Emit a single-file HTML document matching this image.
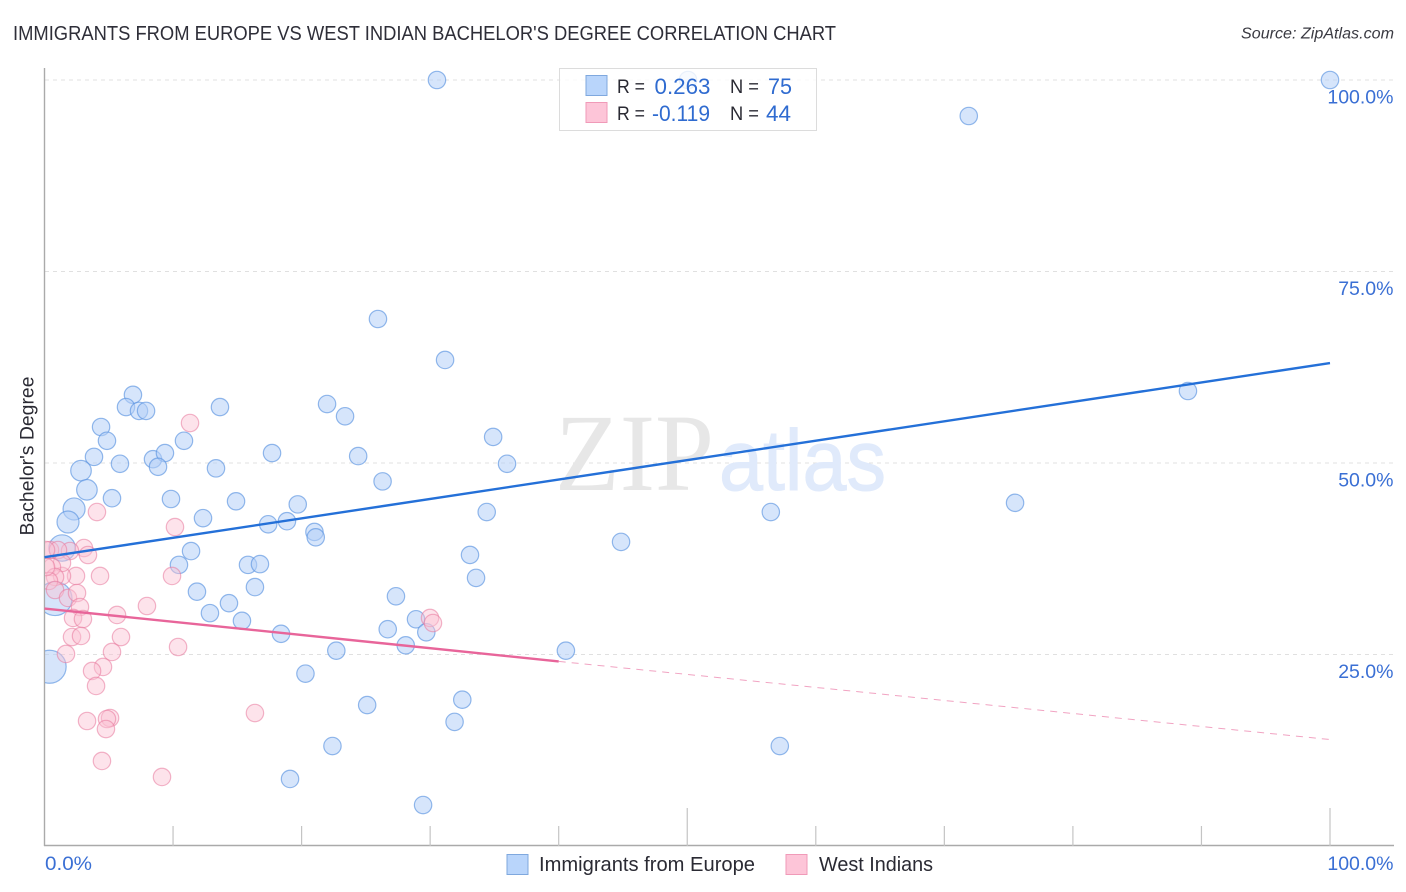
<!DOCTYPE html>
<html lang="en">
<head>
<meta charset="utf-8">
<title>Immigrants from Europe vs West Indian Bachelor's Degree Correlation Chart</title>
<style>
html,body{margin:0;padding:0;background:#fff;}
svg{display:block;font-family:"Liberation Sans",sans-serif;}
</style>
</head>
<body>
<svg id="chart" xmlns="http://www.w3.org/2000/svg" width="1406" height="892" viewBox="0 0 1406 892">
  <defs>
    <clipPath id="plot-clip"><rect x="45" y="60" width="1349" height="786"/></clipPath>
  </defs>
  <text x="13" y="40" font-size="20" fill="#2e2e38" textLength="823" lengthAdjust="spacingAndGlyphs">IMMIGRANTS FROM EUROPE VS WEST INDIAN BACHELOR'S DEGREE CORRELATION CHART</text>
  <text x="1394" y="38.5" font-size="15.5" font-style="italic" fill="#3a3a42" text-anchor="end" textLength="153" lengthAdjust="spacingAndGlyphs">Source: ZipAtlas.com</text>
  <text transform="translate(33.5,456) rotate(-90)" font-size="19" fill="#2a2a33" text-anchor="middle" textLength="159" lengthAdjust="spacingAndGlyphs">Bachelor's Degree</text>
  <g id="grid"></g>
  <g>
    <text x="555" y="490" font-family="'Liberation Serif',serif" font-size="110" fill="#e7e7e7" textLength="159" lengthAdjust="spacingAndGlyphs">ZIP</text>
    <text x="719" y="490" font-family="'Liberation Sans',sans-serif" font-size="86" fill="#e0eafb" stroke="#e0eafb" stroke-width="1" textLength="167" lengthAdjust="spacingAndGlyphs">atlas</text>
  </g>
  <g id="axes"></g>
  <g id="points-europe" clip-path="url(#plot-clip)"></g>
  <g id="points-indians" clip-path="url(#plot-clip)"></g>
  <g id="trends"></g>
  <g id="labels"></g>

  <g>
    <rect x="559.5" y="68.5" width="257" height="62" fill="#fff" fill-opacity="0.8" stroke="#dcdcdc" stroke-width="1"/>
    <rect x="586" y="75.5" width="21" height="20" fill="#b9d5fb" stroke="#7fa8de" stroke-width="1"/>
    <rect x="586" y="102.5" width="21" height="20" fill="#fdc5d8" stroke="#f09ab8" stroke-width="1"/>
    <text x="617" y="93" font-size="19" fill="#2a2a33" textLength="28" lengthAdjust="spacingAndGlyphs">R =</text>
    <text x="654.5" y="94" font-size="22" fill="#2f6bd0" textLength="56" lengthAdjust="spacingAndGlyphs">0.263</text>
    <text x="730" y="93" font-size="19" fill="#2a2a33" textLength="29" lengthAdjust="spacingAndGlyphs">N =</text>
    <text x="768" y="94" font-size="22" fill="#2f6bd0" textLength="24" lengthAdjust="spacingAndGlyphs">75</text>
    <text x="617" y="120" font-size="19" fill="#2a2a33" textLength="28" lengthAdjust="spacingAndGlyphs">R =</text>
    <text x="652" y="121" font-size="22" fill="#2f6bd0" textLength="58" lengthAdjust="spacingAndGlyphs">-0.119</text>
    <text x="730" y="120" font-size="19" fill="#2a2a33" textLength="29" lengthAdjust="spacingAndGlyphs">N =</text>
    <text x="766" y="121" font-size="22" fill="#2f6bd0" textLength="25" lengthAdjust="spacingAndGlyphs">44</text>
  </g>

  <g>
    <rect x="507" y="854.5" width="21" height="20" fill="#b9d5fb" stroke="#7fa8de" stroke-width="1"/>
    <text x="539" y="871" font-size="20" fill="#2a2a33" textLength="216" lengthAdjust="spacingAndGlyphs">Immigrants from Europe</text>
    <rect x="786" y="854.5" width="21" height="20" fill="#fdc5d8" stroke="#f09ab8" stroke-width="1"/>
    <text x="819" y="871" font-size="20" fill="#2a2a33" textLength="114" lengthAdjust="spacingAndGlyphs">West Indians</text>
  </g>
</svg>
<script>
const xTickValues = [0,10,20,30,40,50,60,70,80,90,100];
const xMajorTicks = [50,100];
const yTickValues = [25,50,75,100];
const yTickLabels = ["25.0%","50.0%","75.0%","100.0%"];
const xEndLabels = ["0.0%","100.0%"];

const europeX = [30.53,50.06,100,71.9,25.94,31.16,88.95,6.88,6.34,13.65,7.35,7.9,21.98,23.38,4.4,4.86,10.85,34.9,3.85,5.87,8.44,9.37,8.83,17.7,24.4,13.34,35.98,2.84,3.3,26.3,5.25,9.84,14.9,19.7,75.5,2.3,34.4,56.5,1.83,12.33,17.4,18.86,21,21.1,44.85,1.37,11.4,33.1,10.46,15.83,16.76,33.57,16.37,11.86,27.34,14.35,0.82,12.87,15.36,28.9,26.7,29.7,18.4,28.1,22.7,40.56,20.3,0.4,32.5,25.1,31.9,22.4,57.2,19.1,29.45];
const europeY = [100,100,100,95.3,68.8,63.45,59.4,58.9,57.3,57.3,56.8,56.8,57.7,56.1,54.7,52.9,52.9,53.4,50.8,49.9,50.5,51.3,49.5,51.3,50.9,49.3,49.9,49,46.5,47.6,45.4,45.3,45,44.6,44.8,44,43.6,43.6,42.3,42.8,42,42.4,41,40.3,39.7,38.9,38.5,38,36.7,36.7,36.8,35,33.8,33.2,32.6,31.7,32.3,30.4,29.4,29.6,28.3,27.9,27.7,26.2,25.5,25.5,22.5,23.4,19.1,18.4,16.2,13.05,13.05,8.75,5.35];
const europeWeight = [1,1,1,1,1,1,1,1,1,1,1,1,1,1,1,1,1,1,1,1,1,1,1,1,1,1,1,1.4,1.4,1,1,1,1,1,1,1.6,1,1,1.6,1,1,1,1,1,1,2.3,1,1,1,1,1,1,1,1,1,1,3.8,1,1,1,1,1,1,1,1,1,1,3.6,1,1,1,1,1,1,1];

const indiansX = [11.32,4.08,10.15,9.92,3.07,3.38,4.32,2.45,1.36,1.98,0.43,1.05,1.36,0.58,0.82,0.35,0.82,1.83,2.53,2.76,5.64,7.97,2.22,2.99,2.14,2.84,5.95,10.39,1.67,5.25,4.55,3.7,4.01,3.31,5.1,4.86,4.78,4.47,9.14,16.37,29.99,30.22,0.12,0.12];
const indiansY = [55.22,43.6,41.64,35.25,38.9,37.99,35.25,35.25,35.25,38.51,38.64,38.64,36.95,36.42,35.12,34.6,33.42,32.38,33.03,31.2,30.16,31.33,29.77,29.63,27.28,27.42,27.28,25.98,25.07,25.33,23.37,22.85,20.89,16.32,16.71,16.58,15.27,11.1,9.01,17.36,29.77,29.11,38.64,36.42];

const europeTrendX = [0,100];
const europeTrendY = [37.7,63.05];
const indiansTrendX = [0,40];
const indiansTrendY = [31.0,24.1];
const indiansDashX = [40,100];
const indiansDashY = [24.1,13.9];

const NS = "http://www.w3.org/2000/svg";
const xScale = v => 44.5 + v * 12.855;
const yScale = v => 846 - v * 7.66;
const BASE_R = 8.7;

function make(tag, attrs, parentId) {
  const el = document.createElementNS(NS, tag);
  for (const k in attrs) el.setAttribute(k, attrs[k]);
  document.getElementById(parentId).appendChild(el);
  return el;
}

yTickValues.forEach(v => {
  const el = make("line", {x1:45, x2:1393, y1:yScale(v), y2:yScale(v), stroke:"#e0e0e0", "stroke-width":1, "stroke-dasharray":"4 4"}, "grid");
  
  
});

const yAxis = make("line", {x1:44.5, x2:44.5, y1:68, y2:846, stroke:"#aaaaaa", "stroke-width":1.4}, "axes");


const xAxis = make("line", {x1:44, x2:1394, y1:845.5, y2:845.5, stroke:"#aaaaaa", "stroke-width":1.4}, "axes");



xTickValues.forEach(v => {
  if (v === 0) return;
  const top = xMajorTicks.includes(v) ? 808 : 826;
  const el = make("line", {x1:xScale(v), x2:xScale(v), y1:top, y2:846, stroke:"#c4c4c4", "stroke-width":1.2}, "axes");
  
  
});

europeX.forEach((x, i) => {
  const el = make("circle", {cx:xScale(x), cy:yScale(europeY[i]), r:BASE_R * Math.sqrt(europeWeight[i]), fill:"#b4d0f8", "fill-opacity":0.55, stroke:"#5b94e0", "stroke-opacity":0.65, "stroke-width":1.2}, "points-europe");
  
  
});

indiansX.forEach((x, i) => {
  const el = make("circle", {cx:xScale(x), cy:yScale(indiansY[i]), r:BASE_R, fill:"#fbc0d3", "fill-opacity":0.45, stroke:"#e8799c", "stroke-opacity":0.55, "stroke-width":1.2}, "points-indians");
  
  
});

const eTrend = make("line", {x1:xScale(europeTrendX[0]), y1:yScale(europeTrendY[0]), x2:xScale(europeTrendX[1]), y2:yScale(europeTrendY[1]), stroke:"#2470d8", "stroke-width":2.4}, "trends");


const iTrend = make("line", {x1:xScale(indiansTrendX[0]), y1:yScale(indiansTrendY[0]), x2:xScale(indiansTrendX[1]), y2:yScale(indiansTrendY[1]), stroke:"#e8659a", "stroke-width":2.4}, "trends");


const iDash = make("line", {x1:xScale(indiansDashX[0]), y1:yScale(indiansDashY[0]), x2:xScale(indiansDashX[1]), y2:yScale(indiansDashY[1]), stroke:"#e8659a", "stroke-width":1, "stroke-dasharray":"7 6", "stroke-opacity":0.6}, "trends");



yTickValues.forEach((v, i) => {
  const el = make("text", {x:1393.5, y:yScale(v) + 23.5, "font-size":19.5, fill:"#3a6fd4", "text-anchor":"end"}, "labels");
  
  
  el.textContent = yTickLabels[i];
});
const xl0 = make("text", {x:45, y:870, "font-size":19.5, fill:"#3a6fd4", textLength:47, lengthAdjust:"spacingAndGlyphs"}, "labels");


xl0.textContent = xEndLabels[0];
const xl1 = make("text", {x:1393.5, y:870, "font-size":19.5, fill:"#3a6fd4", "text-anchor":"end"}, "labels");


xl1.textContent = xEndLabels[1];
</script>
</body>
</html>
